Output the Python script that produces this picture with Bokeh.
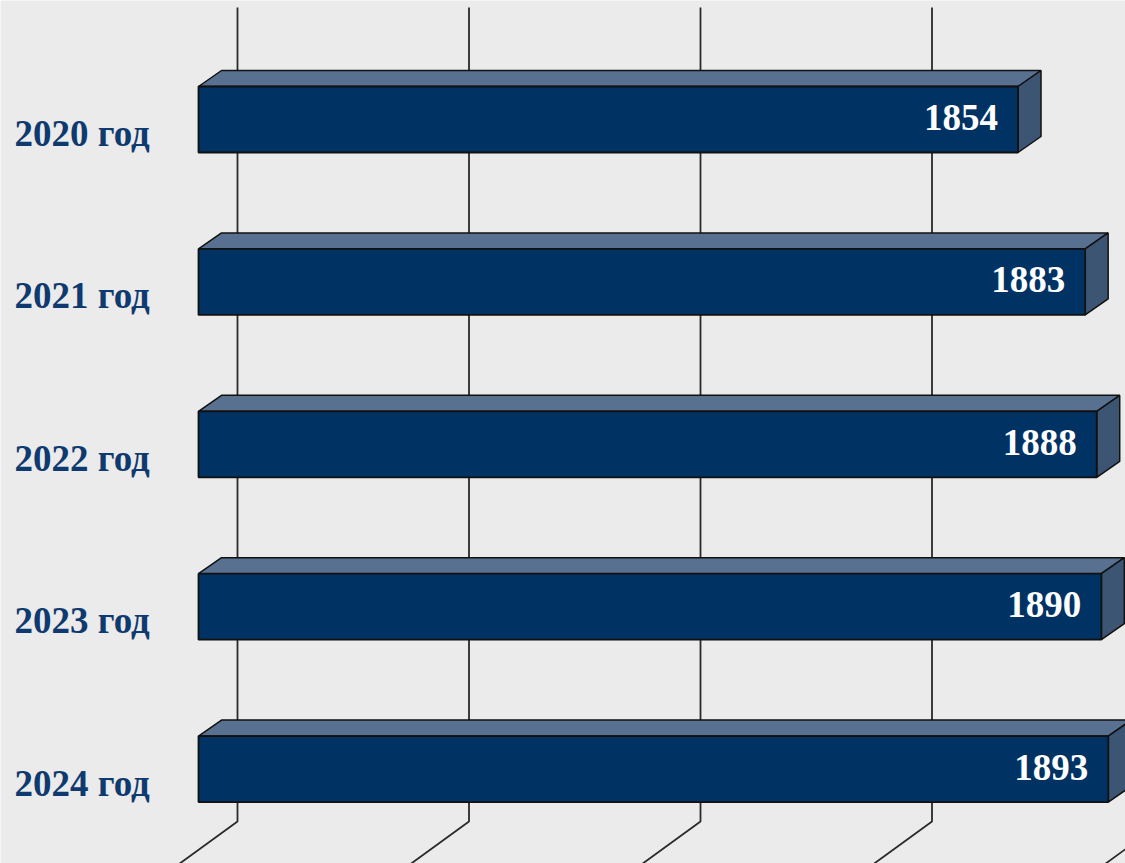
from bokeh.plotting import figure
from bokeh.models import ColumnDataSource, Range1d
from bokeh.core.properties import value
from bokeh.embed import file_html
from bokeh.resources import INLINE

# ---- data ----
categories = ["2020 год", "2021 год", "2022 год", "2023 год", "2024 год"]
values = [1854, 1883, 1888, 1890, 1893]
grid_values = [1500, 1600, 1700, 1800, 1900]
axis_min = 1500

# ---- layout constants (pixels -> data units) ----
W, H = 1125, 863
KX = 2.315          # px per value unit
KY = 162.4          # px per category step
x_start = axis_min - 198 / KX
y_end = 119 / KY

half_h = 33 / KY
dep_x = 23 / KX
dep_y = 16 / KY
wall_x = 39 / KX
floor_y = y_end - 821 / KY

p = figure(width=W, height=H, output_backend="svg", toolbar_location=None,
           x_range=Range1d(x_start, x_start + W / KX),
           y_range=Range1d(y_end - H / KY, y_end),
           min_border=0, outline_line_color=None)
p.axis.visible = False
p.xgrid.visible = False
p.ygrid.visible = False
p.background_fill_color = "#ebebeb"
p.border_fill_color = "#ebebeb"

# back-wall gridlines + floor lines
gx, gy = [], []
for g in grid_values:
    bx = g + wall_x
    gx.append([bx, bx, bx - 66 / KX])
    gy.append([y_end - 7 / KY, floor_y, floor_y - 48 / KY])
p.multi_line(gx, gy, line_color="#2a2a2a", line_width=1.8)

# 3D bars
cy = [-i for i in range(len(categories))]
fx, fy, tx, ty, sx, sy = [], [], [], [], [], []
for v, c in zip(values, cy):
    lo, hi = c - half_h, c + half_h
    fx.append([axis_min, v, v, axis_min]); fy.append([lo, lo, hi, hi])
    tx.append([axis_min, v, v + dep_x, axis_min + dep_x]); ty.append([hi, hi, hi + dep_y, hi + dep_y])
    sx.append([v, v + dep_x, v + dep_x, v]); sy.append([lo, lo + dep_y, hi + dep_y, hi])

p.patches(tx, ty, fill_color="#587190", line_color="#111111", line_width=1.5)
p.patches(sx, sy, fill_color="#3b5572", line_color="#111111", line_width=1.5)
p.patches(fx, fy, fill_color="#003263", line_color="#111111", line_width=1.8)

# value labels
src = ColumnDataSource(dict(x=values, y=cy, t=[str(v) for v in values]))
p.text(x="x", y="y", text="t", source=src, text_align="right", text_baseline="middle",
       x_offset=-20, y_offset=-2, text_color="white", text_font=value("Liberation Serif"),
       text_font_style="bold", text_font_size="37px")

# category labels
csrc = ColumnDataSource(dict(x=[x_start] * len(categories), y=cy, t=categories))
p.text(x="x", y="y", text="t", source=csrc, text_align="left", text_baseline="middle",
       x_offset=14, y_offset=14, text_color="#0f3a70", text_font=value("Liberation Serif"),
       text_font_style="bold", text_font_size="37px")

open("out.html", "w").write(file_html(p, INLINE))
